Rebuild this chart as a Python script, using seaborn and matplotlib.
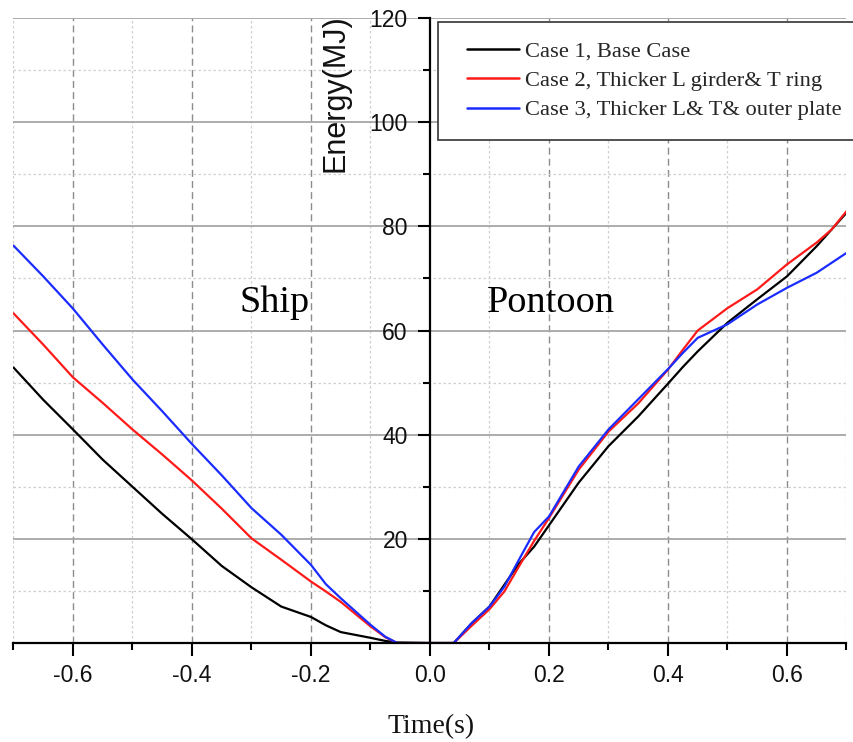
import numpy as np
import pandas as pd
import matplotlib
matplotlib.use("Agg")
import matplotlib.pyplot as plt
from matplotlib.lines import Line2D
from matplotlib.legend_handler import HandlerLine2D
import seaborn as sns

# ---------------- data ----------------
time_s = [-0.70, -0.65, -0.60, -0.55, -0.50, -0.45, -0.40, -0.35, -0.30, -0.25,
          -0.20, -0.175, -0.15, -0.10, -0.075, -0.055, 0.0, 0.04, 0.07, 0.10,
          0.125, 0.15, 0.175, 0.20, 0.25, 0.30, 0.35, 0.40, 0.425, 0.45,
          0.50, 0.55, 0.60, 0.65, 0.675, 0.70]

case1 = [52.9, 46.7, 41.0, 35.2, 30.0, 24.8, 19.9, 14.8, 10.7, 7.0,
         5.0, 3.4, 2.1, 1.0, 0.4, 0.1, 0.0, 0.0, 3.8, 7.0,
         11.2, 15.3, 18.5, 22.6, 30.8, 37.8, 43.5, 49.8, 53.0, 56.0,
         61.5, 66.0, 70.4, 76.2, 79.4, 82.6]

case2 = [63.3, 57.3, 51.0, 46.1, 41.0, 36.2, 31.2, 25.8, 20.1, 16.0,
         11.8, 9.9, 7.9, 3.2, 1.1, 0.0, 0.0, 0.0, 3.3, 6.5,
         9.9, 14.8, 19.6, 24.0, 33.3, 40.6, 46.0, 52.5, 56.3, 60.0,
         64.3, 67.9, 72.7, 76.9, 79.4, 82.9]

case3 = [76.3, 70.4, 64.2, 57.3, 50.6, 44.5, 38.2, 32.2, 25.9, 20.8,
         15.0, 11.3, 8.6, 3.5, 1.2, 0.0, 0.0, 0.0, 3.8, 7.0,
         10.8, 16.1, 21.3, 24.3, 33.9, 41.0, 46.8, 52.6, 55.7, 58.6,
         61.2, 65.0, 68.2, 71.1, 73.0, 74.9]

case_labels = ["Case 1, Base Case",
               "Case 2, Thicker L girder& T ring",
               "Case 3, Thicker L& T& outer plate"]
case_colors = ["#000000", "#ff1a1a", "#1a2cff"]

x_major = [-0.6, -0.4, -0.2, 0.0, 0.2, 0.4, 0.6]
x_minor = [-0.7, -0.5, -0.3, -0.1, 0.1, 0.3, 0.5, 0.7]
y_major = [20, 40, 60, 80, 100, 120]
y_minor = [10, 30, 50, 70, 90, 110]

df = pd.concat([
    pd.DataFrame({"Time": time_s, "Energy": vals, "Case": lab})
    for vals, lab in zip([case1, case2, case3], case_labels)
], ignore_index=True)

# ---------------- style ----------------
sns.set_theme(style="white")
plt.rcParams["font.family"] = ["Liberation Sans", "DejaVu Sans"]
SERIF = ["Liberation Serif", "DejaVu Serif"]

fig = plt.figure(figsize=(8.54, 7.42), dpi=100)
ax = fig.add_axes([0.0158, 0.1334, 0.9754, 0.8423])

sns.lineplot(data=df, x="Time", y="Energy", hue="Case", hue_order=case_labels,
             palette=case_colors, sort=False, estimator=None, lw=1.6, ax=ax,
             zorder=5)

ax.set_xlim(-0.7, 0.7)
ax.set_ylim(0, 120)
ax.set_xticks(x_major)
ax.set_xticks(x_minor, minor=True)
ax.set_yticks(y_major)
ax.set_yticks(y_minor, minor=True)
ax.set_xticklabels([f"{v:.1f}" for v in x_major])
ax.set_yticklabels([f"{v:d}" for v in y_major])

for side in ["top", "right"]:
    ax.spines[side].set_visible(False)
ax.spines["left"].set_position(("data", 0))
for side in ["left", "bottom"]:
    ax.spines[side].set_color("black")
    ax.spines[side].set_linewidth(1.6)
    ax.spines[side].set_zorder(6)

ax.tick_params(which="major", direction="out", length=9, width=1.5,
               color="black", labelsize=16.5, labelcolor="#111111")
ax.tick_params(which="minor", direction="out", length=5, width=1.5,
               color="black")
ax.tick_params(axis="x", which="major", pad=6)
ax.tick_params(axis="y", which="major", pad=7)
ax.tick_params(bottom=True, left=True, which="both")

# grids
ax.grid(which="major", axis="y", color="#a6a6a6", lw=1.3, ls="-")
ax.grid(which="major", axis="x", color="#8c8c8c", lw=1.0, ls=(0, (5, 3)))
ax.grid(which="minor", axis="both", color="#cfcfcf", lw=0.9, ls=(0, (2, 2)))
ax.set_axisbelow(True)
for t in ax.yaxis.get_major_ticks():
    if abs(t.get_loc() - 120) < 1e-6:
        t.gridline.set_visible(False)
for t in ax.xaxis.get_major_ticks():
    if abs(t.get_loc()) < 1e-6:
        t.gridline.set_visible(False)
for t in ax.xaxis.get_minor_ticks():
    if abs(abs(t.get_loc()) - 0.7) < 1e-6:
        t.gridline.set_visible(False)

ax.set_xlabel("")
ax.set_ylabel("")
ax.text(0.387, 0.88, "Energy(MJ)", rotation=90, ha="center", va="center",
        fontsize=22, transform=ax.transAxes, color="#111111")
ax.text(0.501, -0.144, "Time(s)", ha="center", va="baseline",
        fontsize=20, family=SERIF, transform=ax.transAxes, color="#111111")
ax.text(0.314, 0.5296, "Ship", ha="center", va="baseline",
        fontsize=27.5, family=SERIF, transform=ax.transAxes, color="black")
ax.text(0.645, 0.5296, "Pontoon", ha="center", va="baseline",
        fontsize=27.5, family=SERIF, transform=ax.transAxes, color="black")

handles, labels = ax.get_legend_handles_labels()
if ax.get_legend() is not None:
    ax.get_legend().remove()
leg = fig.legend(handles, labels, loc="upper left",
                 bbox_to_anchor=(438 / 854, 1 - 22 / 742),
                 bbox_transform=fig.transFigure, borderaxespad=0,
                 frameon=True, fancybox=False, shadow=False,
                 prop={"family": SERIF, "size": 16.2},
                 handlelength=2.75, handletextpad=0.25, labelspacing=0.38,
                 borderpad=0.85,
                 handler_map={Line2D: HandlerLine2D(xpad=0.45)})
leg.get_frame().set_edgecolor("#333333")
leg.get_frame().set_linewidth(1.2)
leg.get_frame().set_alpha(1)
for h in leg.get_lines():
    h.set_linewidth(1.8)

fig.savefig("out.png", dpi=100)
